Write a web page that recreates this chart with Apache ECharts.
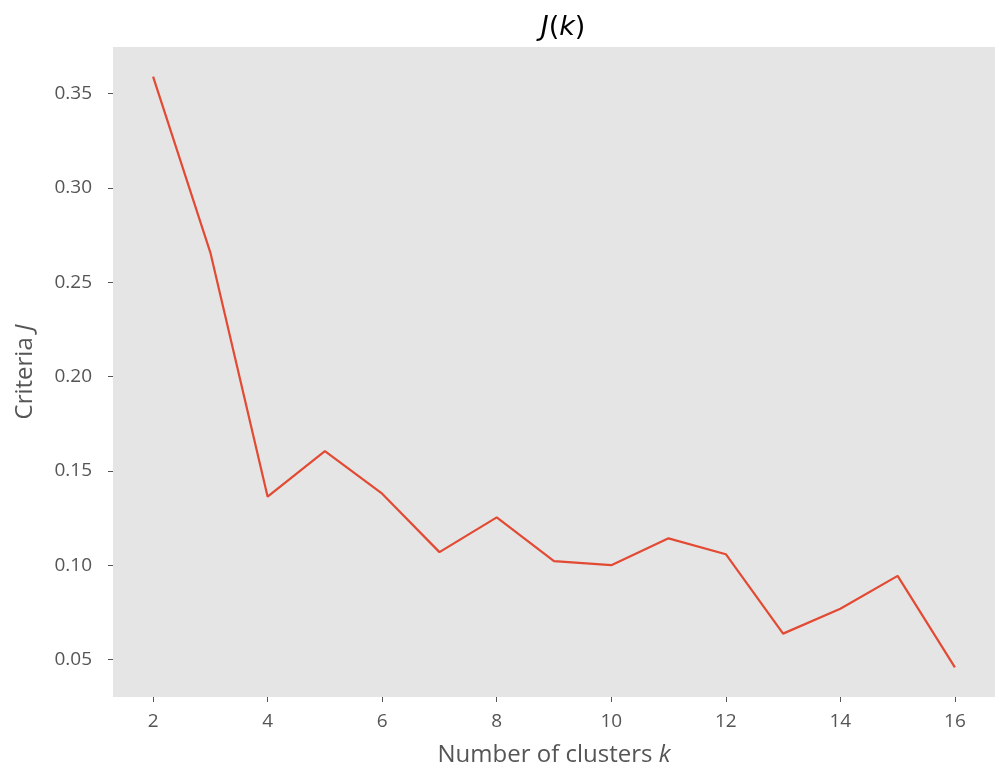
<!DOCTYPE html>
<html><head><meta charset="utf-8">
<script src="https://cdn.jsdelivr.net/npm/echarts@6/dist/echarts.min.js"></script>
<style>html,body{margin:0;padding:0;background:#fff}#c{width:998px;height:768px}</style>
</head><body><div id="c"></div>
<script>
const kValues = [2,3,4,5,6,7,8,9,10,11,12,13,14,15,16];
const jValues = [0.359,0.2657,0.1363,0.1605,0.1379,0.1069,0.1253,0.1021,0.1000,0.1142,0.1058,0.0637,0.0769,0.0943,0.0458];
const xTicks = [2,4,6,8,10,12,14,16];
const yTicks = [0.05,0.10,0.15,0.20,0.25,0.30,0.35];

const chart = echarts.init(document.getElementById('c'), null, {renderer:'canvas'});
const font = 'Open Sans';
const mfont = 'DejaVu Sans';
chart.setOption({
  animation:false,
  backgroundColor:'#fff',
  title:{
    text:'{i|J}({i|k})',
    left:558, top:9, textAlign:'center',
    textStyle:{fontFamily:mfont, fontSize:27, fontWeight:'normal', color:'#000',
      rich:{i:{fontStyle:'italic', fontFamily:mfont, fontSize:27, color:'#000'}}}
  },
  grid:{left:113, right:3, top:47, bottom:71, show:true, backgroundColor:'#e5e5e5', borderWidth:0,
    containLabel:false, outerBoundsMode:'none'},
  xAxis:{
    type:'value', min:1.3, max:16.7,
    name:'Number of clusters {i|k}', nameLocation:'middle', nameGap:46,
    nameTextStyle:{fontFamily:font, fontSize:24, color:'#555',
      rich:{i:{fontStyle:'italic', fontFamily:font, fontSize:24, color:'#555'}}},
    axisLine:{show:false},
    axisTick:{show:true, length:5, lineStyle:{color:'#555'}, customValues:xTicks},
    axisLabel:{fontFamily:font, fontSize:19, color:'#555', margin:15, customValues:xTicks},
    splitLine:{show:false}
  },
  yAxis:{
    type:'value', min:0.0301, max:0.3747,
    name:'Criteria {i|J}', nameLocation:'middle', nameGap:76, nameRotate:90,
    nameTextStyle:{fontFamily:font, fontSize:24, color:'#555',
      rich:{i:{fontStyle:'italic', fontFamily:font, fontSize:24, color:'#555'}}},
    axisLine:{show:false},
    axisTick:{show:true, length:5, lineStyle:{color:'#555'}, customValues:yTicks},
    axisLabel:{fontFamily:font, fontSize:19, color:'#555', margin:21, customValues:yTicks,
      formatter:v=>v.toFixed(2)},
    splitLine:{show:false}
  },
  series:[{
    type:'line', data:kValues.map((k,i)=>[k,jValues[i]]),
    showSymbol:false, lineStyle:{color:'#E24A33', width:2.2}, itemStyle:{color:'#E24A33'}
  }]
});
</script></body></html>
